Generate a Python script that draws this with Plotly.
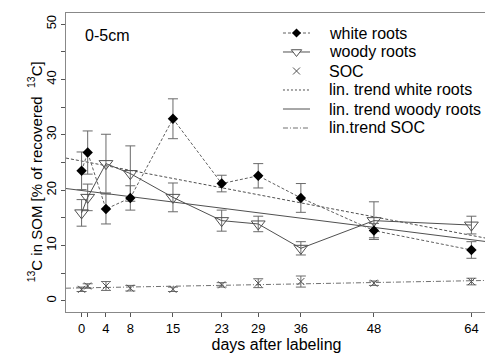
import plotly.graph_objects as go

# ---- data ----
days = [0, 1, 4, 8, 15, 23, 29, 36, 48, 64]
day_labels = ["0", " ", "4", "8", "15", "23", "29", "36", "48", "64"]

white_roots = [23.5, 26.8, 16.6, 18.6, 32.9, 21.2, 22.6, 18.6, 12.7, 9.2]
white_err = [3.4, 3.9, 2.7, 2.2, 3.6, 1.5, 2.2, 2.6, 1.3, 1.5]

woody_roots = [15.9, 18.7, 24.8, 23.0, 18.7, 14.5, 13.9, 9.5, 14.5, 13.7]
woody_err = [2.4, 2.4, 5.3, 5.0, 2.6, 1.9, 1.4, 1.2, 3.4, 1.6]

soc = [2.1, 2.7, 2.7, 2.3, 2.1, 2.9, 3.2, 3.5, 3.2, 3.5]
soc_err = [0.4, 0.4, 0.8, 0.5, 0.4, 0.4, 0.8, 1.0, 0.4, 0.6]

trend_days = [-2.56, 66.56]
trend_white = [25.8, 11.3]
trend_woody = [20.3, 10.7]
trend_soc = [2.3, 3.7]

y_ticks = [0, 10, 20, 30, 40, 50]

legend_labels = ["white roots", "woody roots", "SOC",
                 "lin. trend white roots", "lin. trend woody roots", "lin.trend SOC"]

y_title = "<sup>13</sup>C in SOM [% of recovered  <sup>13</sup>C]"
x_title = "days after labeling"

FONT = "Arial, Liberation Sans, sans-serif"
DARK = "#505050"
ERR = "#6a6a6a"

fig = go.Figure()

# trend lines
fig.add_trace(go.Scatter(x=trend_days, y=trend_white, mode="lines",
                         line=dict(color=DARK, width=1, dash="3px,2px"), showlegend=False))
fig.add_trace(go.Scatter(x=trend_days, y=trend_woody, mode="lines",
                         line=dict(color=DARK, width=1), showlegend=False))
fig.add_trace(go.Scatter(x=trend_days, y=trend_soc, mode="lines",
                         line=dict(color="#707070", width=1, dash="5px,2px,1px,2px"), showlegend=False))

# SOC
fig.add_trace(go.Scatter(x=days, y=soc, mode="markers",
                         marker=dict(symbol="x-thin-open", size=7, color=DARK, line=dict(width=1, color=DARK)),
                         error_y=dict(type="data", array=soc_err, color=ERR, thickness=1, width=5),
                         showlegend=False))
# woody roots
fig.add_trace(go.Scatter(x=days, y=woody_roots, mode="lines+markers",
                         line=dict(color=DARK, width=1),
                         marker=dict(symbol="triangle-down-open", size=12, color=DARK, line=dict(width=1, color=DARK)),
                         error_y=dict(type="data", array=woody_err, color=ERR, thickness=1, width=5),
                         showlegend=False))
# white roots
fig.add_trace(go.Scatter(x=days, y=white_roots, mode="lines+markers",
                         line=dict(color="#606060", width=1, dash="3px,2px"),
                         marker=dict(symbol="diamond", size=8, color="black"),
                         error_y=dict(type="data", array=white_err, color=ERR, thickness=1, width=5),
                         showlegend=False))

# ---- manual legend on an overlay [0,1] axis pair ----
lx0, lx1, lxm, ltx = 0.5154, 0.5796, 0.5475, 0.62
rows = [0.9331, 0.8696, 0.8060, 0.7425, 0.6789, 0.6154]
fig.add_trace(go.Scatter(x=[lx0, lxm, lx1], y=[rows[0]] * 3, mode="lines", xaxis="x2", yaxis="y2",
                         line=dict(color="#606060", width=1, dash="3px,2px"), showlegend=False))
fig.add_trace(go.Scatter(x=[lxm], y=[rows[0]], mode="markers", xaxis="x2", yaxis="y2",
                         marker=dict(symbol="diamond", size=7, color="black"), showlegend=False))
fig.add_trace(go.Scatter(x=[lx0, lx1], y=[rows[1]] * 2, mode="lines", xaxis="x2", yaxis="y2",
                         line=dict(color=DARK, width=1), showlegend=False))
fig.add_trace(go.Scatter(x=[lxm], y=[rows[1]], mode="markers", xaxis="x2", yaxis="y2",
                         marker=dict(symbol="triangle-down", size=9, color="white", line=dict(width=1, color=DARK)),
                         showlegend=False))
fig.add_trace(go.Scatter(x=[lxm], y=[rows[2]], mode="markers", xaxis="x2", yaxis="y2",
                         marker=dict(symbol="x-thin-open", size=7, color=DARK, line=dict(width=1, color=DARK)),
                         showlegend=False))
fig.add_trace(go.Scatter(x=[lx0, lx1], y=[rows[3]] * 2, mode="lines", xaxis="x2", yaxis="y2",
                         line=dict(color=DARK, width=1, dash="2px,2px"), showlegend=False))
fig.add_trace(go.Scatter(x=[lx0, lx1], y=[rows[4]] * 2, mode="lines", xaxis="x2", yaxis="y2",
                         line=dict(color=DARK, width=1), showlegend=False))
fig.add_trace(go.Scatter(x=[lx0, lx1], y=[rows[5]] * 2, mode="lines", xaxis="x2", yaxis="y2",
                         line=dict(color="#707070", width=1, dash="5px,2px,1px,2px"), showlegend=False))

annotations = [dict(x=ltx, y=r, xref="paper", yref="paper", text=t, showarrow=False,
                    xanchor="left", yanchor="middle", font=dict(family=FONT, size=16, color="black"))
               for r, t in zip(rows, legend_labels)]
annotations.append(dict(x=0.0404, y=0.926, xref="paper", yref="paper", text="0-5cm", showarrow=False,
                        xanchor="left", yanchor="middle", font=dict(family=FONT, size=16, color="black")))
annotations.append(dict(x=-0.074, y=0.47, xref="paper", yref="paper", text=y_title, showarrow=False,
                        textangle=-90, xanchor="center", yanchor="middle",
                        font=dict(family=FONT, size=15, color="black")))

# the page body has an 8px default margin, so the figure is drawn 8px smaller
fig.update_layout(
    width=485, height=348, autosize=False,
    margin=dict(l=58, r=6, t=5, b=44, autoexpand=False),
    paper_bgcolor="white", plot_bgcolor="white",
    font=dict(family=FONT, color="black"),
    showlegend=False,
    annotations=annotations,
    xaxis=dict(range=[-2.56, 66.56], tickmode="array", tickvals=days, ticktext=day_labels,
               ticks="outside", ticklen=4, tickcolor="#555", tickwidth=1, automargin=False, tickangle=0,
               showline=True, linecolor="#888", linewidth=1, mirror=True,
               showgrid=False, zeroline=False, tickfont=dict(size=13, family=FONT),
               title=dict(text=x_title, font=dict(size=16, family=FONT), standoff=0)),
    yaxis=dict(range=[-2, 52], tickmode="array", tickvals=y_ticks, automargin=False,
               ticks="outside", ticklen=4, tickcolor="#555", tickwidth=1, tickangle=-90,
               minor=dict(tickmode="linear", tick0=0, dtick=5, ticks="outside", ticklen=4, tickcolor="#555", showgrid=False),
               showline=True, linecolor="#888", linewidth=1, mirror=True,
               showgrid=False, zeroline=False, tickfont=dict(size=13, family=FONT)),
    xaxis2=dict(overlaying="x", range=[0, 1], visible=False, fixedrange=True),
    yaxis2=dict(overlaying="y", range=[0, 1], visible=False, fixedrange=True),
)

fig.write_html("out.html")
